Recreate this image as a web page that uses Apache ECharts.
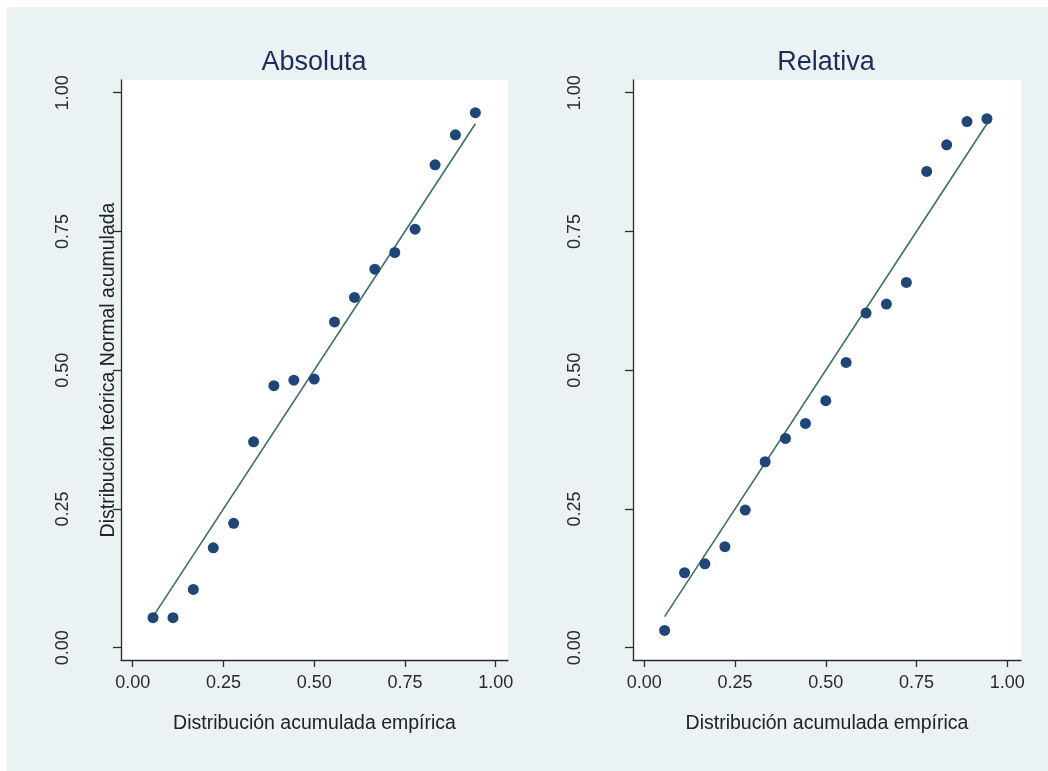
<!DOCTYPE html>
<html>
<head>
<meta charset="utf-8">
<script src="https://cdn.jsdelivr.net/npm/echarts@6/dist/echarts.min.js"></script>
<style>
  html, body { margin: 0; padding: 0; background: #ffffff; width: 1048px; height: 771px; overflow: hidden; }
  #chart { position: absolute; left: 7px; top: 7px; width: 1041px; height: 764px; }
</style>
</head>
<body>
<div id="chart"></div>
<script>
// Panel titles
const panelTitles = ['Absoluta', 'Relativa'];
const xAxisTitle = 'Distribución acumulada empírica';
const yAxisTitle = 'Distribución teórica Normal acumulada';
const tickValues = [0, 0.25, 0.5, 0.75, 1];

// Empirical cumulative distribution (x) shared by both panels
const empirical = [0.056, 0.111, 0.167, 0.222, 0.278, 0.333, 0.389, 0.444, 0.5,
                   0.556, 0.611, 0.667, 0.722, 0.778, 0.833, 0.889, 0.944];
// Theoretical normal cumulative (y)
const absoluta = [0.054, 0.054, 0.105, 0.180, 0.224, 0.371, 0.472, 0.482, 0.484,
                  0.587, 0.631, 0.682, 0.712, 0.754, 0.870, 0.924, 0.964];
const relativa = [0.031, 0.135, 0.151, 0.182, 0.248, 0.335, 0.377, 0.404, 0.445,
                  0.514, 0.603, 0.619, 0.658, 0.858, 0.906, 0.948, 0.953];

const FONT = '"Liberation Sans", Arial, Helvetica, sans-serif';
const AXIS_COLOR = '#2b2b2b';
const DOT_COLOR = '#1f4677';
const LINE_COLOR = '#3b6f66';
const TITLE_COLOR = '#1e2b5c';

const pairs = (xs, ys) => xs.map((x, i) => [x, ys[i]]);
const diag = xs => [[xs[0], xs[0]], [xs[xs.length - 1], xs[xs.length - 1]]];

const grids = [
  { left: 114, top: 73, width: 387, height: 580, xmin: -0.0322, xmax: 1.0339 },
  { left: 626, top: 73, width: 388, height: 580, xmin: -0.0311, xmax: 1.0378 }
];
const titleCenters = [307, 819];

function xAxisFor(i) {
  return {
    type: 'value', gridIndex: i, min: grids[i].xmin, max: grids[i].xmax,
    name: xAxisTitle, nameLocation: 'middle', nameGap: 54, nameMoveOverlap: false,
    nameTextStyle: { fontFamily: FONT, fontSize: 19.5, color: '#222' },
    axisLine: { show: true, onZero: false, lineStyle: { color: AXIS_COLOR, width: 1.3 } },
    axisTick: { show: true, length: 7, customValues: tickValues, lineStyle: { color: AXIS_COLOR, width: 1.3 } },
    axisLabel: { show: true, margin: 14, customValues: tickValues, fontFamily: FONT, fontSize: 18, color: '#2a2a2a',
                 formatter: v => v.toFixed(2) },
    splitLine: { show: false }
  };
}
function yAxisFor(i) {
  const ax = {
    type: 'value', gridIndex: i, min: -0.0222, max: 1.0228,
    axisLine: { show: true, onZero: false, lineStyle: { color: AXIS_COLOR, width: 1.3 } },
    axisTick: { show: true, length: 8, customValues: tickValues, lineStyle: { color: AXIS_COLOR, width: 1.3 } },
    axisLabel: { show: true, margin: 49, rotate: 90, customValues: tickValues, fontFamily: FONT, fontSize: 18, color: '#2a2a2a',
                 formatter: v => v.toFixed(2) },
    splitLine: { show: false }
  };
  if (i === 0) {
    ax.name = yAxisTitle;
    ax.nameLocation = 'middle';
    ax.nameRotate = 90;
    ax.nameGap = 2;
    ax.nameMoveOverlap = false;
    ax.nameTextStyle = { fontFamily: FONT, fontSize: 19.5, color: '#222' };
  }
  return ax;
}

const seriesData = [absoluta, relativa];
const series = [];
seriesData.forEach((ys, i) => {
  series.push({
    type: 'line', xAxisIndex: i, yAxisIndex: i, data: diag(empirical),
    showSymbol: false, silent: true, z: 2,
    lineStyle: { color: LINE_COLOR, width: 1.6 }
  });
  series.push({
    type: 'scatter', xAxisIndex: i, yAxisIndex: i, data: pairs(empirical, ys),
    symbol: 'circle', symbolSize: 11, z: 3,
    itemStyle: { color: DOT_COLOR, opacity: 1 }
  });
});

const chart = echarts.init(document.getElementById('chart'), null, { renderer: 'canvas' });
chart.setOption({
  animation: false,
  backgroundColor: '#EAF2F3',
  title: panelTitles.map((t, i) => ({
    text: t, left: titleCenters[i], top: 42, textAlign: 'center', padding: 0,
    textStyle: { fontFamily: FONT, fontSize: 27, fontWeight: 'normal', color: TITLE_COLOR }
  })),
  grid: grids.map(g => ({
    left: g.left, top: g.top, width: g.width, height: g.height,
    show: true, backgroundColor: '#ffffff', borderWidth: 0
  })),
  xAxis: [xAxisFor(0), xAxisFor(1)],
  yAxis: [yAxisFor(0), yAxisFor(1)],
  series: series
});
</script>
</body>
</html>
